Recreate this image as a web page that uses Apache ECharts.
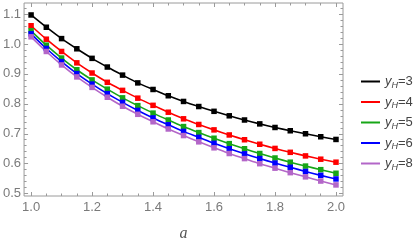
<!DOCTYPE html>
<html><head><meta charset="utf-8">
<script src="https://cdn.jsdelivr.net/npm/echarts@6/dist/echarts.min.js"></script>
<style>html,body{margin:0;padding:0;background:#fff}#c{width:415px;height:247px}</style>
</head><body><div id="c"></div>
<script>
const aValues = [1.00,1.05,1.10,1.15,1.20,1.25,1.30,1.35,1.40,1.45,1.50,1.55,1.60,1.65,1.70,1.75,1.80,1.85,1.90,1.95,2.00];
const yH3 = [1.097,1.056,1.018,0.984,0.952,0.923,0.896,0.870,0.848,0.827,0.808,0.791,0.775,0.760,0.746,0.733,0.721,0.710,0.700,0.690,0.681];
const yH4 = [1.061,1.016,0.975,0.937,0.903,0.872,0.845,0.819,0.795,0.772,0.750,0.731,0.713,0.696,0.680,0.665,0.651,0.638,0.626,0.615,0.605];
const yH5 = [1.044,0.996,0.953,0.914,0.880,0.849,0.820,0.794,0.769,0.746,0.724,0.704,0.685,0.667,0.650,0.634,0.619,0.605,0.592,0.580,0.568];
const yH6 = [1.034,0.985,0.941,0.901,0.866,0.834,0.805,0.778,0.753,0.730,0.708,0.688,0.668,0.650,0.633,0.617,0.602,0.588,0.574,0.561,0.549];
const yH8 = [1.024,0.975,0.930,0.890,0.855,0.822,0.792,0.765,0.740,0.716,0.694,0.673,0.653,0.634,0.617,0.600,0.585,0.570,0.556,0.542,0.529];
const seriesKeys = ['3','4','5','6','8'];
const seriesData = [yH3,yH4,yH5,yH6,yH8];
const seriesColors = ['#000000','#ff0000','#17a617','#0000ff','#b366c8'];
const xTicks = [1.0,1.2,1.4,1.6,1.8,2.0];
const xMinorTicks = [1.05,1.10,1.15,1.25,1.30,1.35,1.45,1.50,1.55,1.65,1.70,1.75,1.85,1.90,1.95];
const yTicks = [0.5,0.6,0.7,0.8,0.9,1.0,1.1];
const yMinorTicks = [0.52,0.54,0.56,0.58,0.62,0.64,0.66,0.68,0.72,0.74,0.76,0.78,0.82,0.84,0.86,0.88,0.92,0.94,0.96,0.98,1.02,1.04,1.06,1.08,1.12];
const xLabel = 'a';

const X_MIN = 0.977, X_MAX = 2.023, Y_MIN = 0.492, Y_MAX = 1.137;
const frameColor = '#9a9a9a';
const labelColor = '#7a7a7a';

function mkAxis(type, pos, ticks, len, withLabels, extra) {
  const ax = {
    type: 'value', position: pos,
    min: type === 'x' ? X_MIN : Y_MIN,
    max: type === 'x' ? X_MAX : Y_MAX,
    axisLine: {show: false},
    splitLine: {show: false},
    axisTick: {show: true, inside: true, length: len, customValues: ticks, lineStyle: {color: frameColor, width: 1}},
    axisLabel: withLabels ? {
      show: true, customValues: ticks, color: labelColor, fontSize: 13,
      fontFamily: 'Liberation Sans', margin: type === 'x' ? 5 : 3,
      formatter: v => v.toFixed(1)
    } : {show: false}
  };
  return Object.assign(ax, extra || {});
}

const chart = echarts.init(document.getElementById('c'), null, {renderer: 'canvas'});
chart.setOption({
  animation: false,
  backgroundColor: '#ffffff',
  grid: {left: 21, right: 72, top: 3, bottom: 47, show: true, borderColor: frameColor, borderWidth: 1, backgroundColor: 'transparent'},
  xAxis: [
    mkAxis('x', 'bottom', xTicks, 4, true, {name: xLabel, nameLocation: 'middle', nameGap: 30,
      nameTextStyle: {fontFamily: 'Liberation Serif', fontStyle: 'italic', fontSize: 16, color: '#555'}}),
    mkAxis('x', 'bottom', xMinorTicks, 2.5, false),
    mkAxis('x', 'top', xTicks, 4, false),
    mkAxis('x', 'top', xMinorTicks, 2.5, false)
  ],
  yAxis: [
    mkAxis('y', 'left', yTicks, 4, true),
    mkAxis('y', 'left', yMinorTicks, 2.5, false),
    mkAxis('y', 'right', yTicks, 4, false),
    mkAxis('y', 'right', yMinorTicks, 2.5, false)
  ],
  legend: {
    orient: 'vertical', left: 356, top: 70, itemWidth: 19, itemHeight: 2, itemGap: 6,
    icon: 'rect',
    data: seriesKeys.map(k => 'yH=' + k),
    formatter: n => '{i|y}{s|H}{n|=' + n.split('=')[1] + '}',
    textStyle: {
      rich: {
        i: {fontFamily: 'Liberation Sans', fontStyle: 'italic', fontSize: 13, color: '#444', lineHeight: 16},
        s: {fontFamily: 'Liberation Sans', fontStyle: 'italic', fontSize: 9, color: '#444', lineHeight: 10, verticalAlign: 'bottom'},
        n: {fontFamily: 'Liberation Sans', fontSize: 13, color: '#444', lineHeight: 16}
      }
    }
  },
  series: seriesKeys.map((k, i) => ({
    name: 'yH=' + k,
    type: 'line',
    xAxisIndex: 0, yAxisIndex: 0,
    data: aValues.map((a, j) => [a, seriesData[i][j]]),
    smooth: 0.3,
    symbol: 'rect', symbolSize: 5.5,
    showSymbol: true,
    color: seriesColors[i],
    lineStyle: {width: 1.6, color: seriesColors[i]},
    itemStyle: {color: seriesColors[i]}
  }))
});
</script>
</body></html>
